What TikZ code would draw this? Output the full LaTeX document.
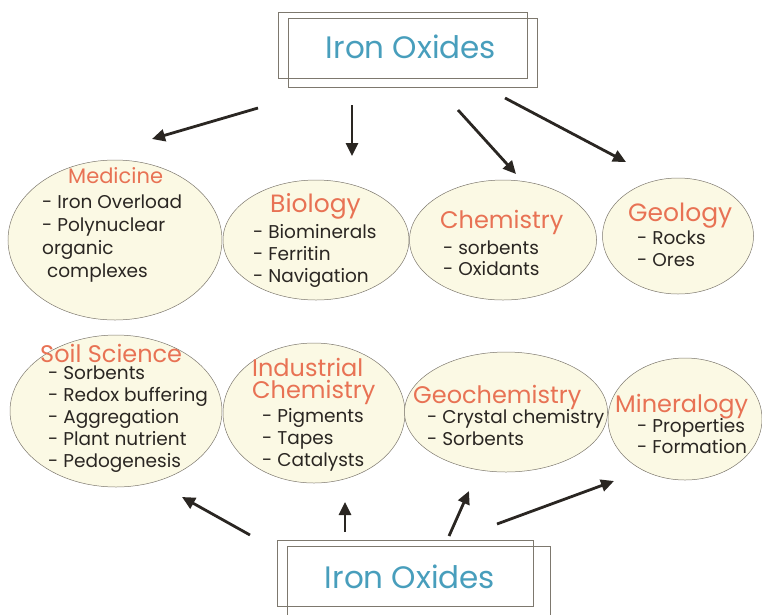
\documentclass[tikz,border=0pt]{standalone}
\usepackage{fontspec}
\setmainfont{Poppins}
\usetikzlibrary{shapes.geometric,arrows.meta}

\definecolor{creamfill}{RGB}{251,249,228}
\definecolor{rimgray}{RGB}{125,120,110}
\definecolor{headred}{RGB}{232,114,84}
\definecolor{oxideblue}{RGB}{72,158,188}
\definecolor{inkdark}{RGB}{42,38,34}

\begin{document}
\begin{tikzpicture}[
x=1pt, y=-1pt,
arrow/.style={-{Triangle[length=13pt,width=12pt]}, line width=2.8pt, draw=inkdark}
]

% =====================================================
% Styles
% =====================================================

\tikzstyle{field} =
[ellipse, draw=rimgray, line width=0.5pt,
fill=creamfill, inner sep=0pt]

\tikzstyle{frame} =
[rectangle, draw=rimgray, line width=0.5pt,
inner sep=0pt]

\tikzstyle{title} =
[font=\fontsize{31}{34}\selectfont, text=oxideblue]

\tikzstyle{head} =
[font=\fontsize{24}{22}\selectfont, text=headred,
inner sep=0pt, anchor=base west]

% base of a multi-line node = baseline of its last line
\tikzstyle{items} =
[font=\fontsize{18.5}{22}\selectfont, text=inkdark,
align=left, inner sep=0pt, anchor=base west]

\useasboundingbox (0,0) rectangle (762,614);

% =====================================================
% Iron Oxides boxes
% =====================================================

\node (topframe) [frame, minimum width=249pt, minimum height=66pt] at (402.5,45) {};
\node (topframe2) [frame, minimum width=249pt, minimum height=69pt] at (412.5,52.5) {};
\node (top) [title] at (411,47) {Iron Oxides};

\node (botframe) [frame, minimum width=256pt, minimum height=66pt] at (405,573) {};
\node (botframe2) [frame, minimum width=263pt, minimum height=100pt] at (418.5,596) {};
\node (bottom) [title] at (410,577) {Iron Oxides};

% =====================================================
% Fields
% =====================================================

\node (medicine) [field, minimum width=214pt, minimum height=160pt] at (115,240) {};
\node (biology) [field, minimum width=186pt, minimum height=120pt] at (316,240) {};
\node (chemistry) [field, minimum width=187pt, minimum height=120pt] at (503,240) {};
\node (geology) [field, minimum width=151pt, minimum height=116pt] at (678,236) {};

\node (soil) [field, minimum width=212pt, minimum height=152pt] at (116,411) {};
\node (industry) [field, minimum width=182pt, minimum height=140pt] at (314,413) {};
\node (geochem) [field, minimum width=203pt, minimum height=120pt] at (506,412) {};
\node (mineral) [field, minimum width=154pt, minimum height=122pt] at (685,419) {};

% =====================================================
% Texts
% =====================================================

\node (medicine-head) [head, font=\fontsize{21}{22}\selectfont] at (68,183) {Medicine};
\node (medicine-items) [items, font=\fontsize{18.5}{23}\selectfont] at (42,277)
{- Iron Overload\\- Polynuclear\\organic\\\ complexes};

\node (biology-head) [head, font=\fontsize{25}{22}\selectfont] at (270,212) {Biology};
\node (biology-items) [items] at (253,282)
{- Biominerals\\- Ferritin\\- Navigation};

\node (chemistry-head) [head] at (440,228) {Chemistry};
\node (chemistry-items) [items, font=\fontsize{18.5}{21}\selectfont] at (443,275)
{- sorbents\\- Oxidants};

\node (geology-head) [head, font=\fontsize{25}{22}\selectfont] at (628,221) {Geology};
\node (geology-items) [items] at (637,266)
{- Rocks\\- Ores};

\node (soil-head) [head] at (40,362) {Soil Science};
\node (soil-items) [items, font=\fontsize{18.5}{21.8}\selectfont] at (48,467)
{- Sorbents\\- Redox buffering\\- Aggregation\\- Plant nutrient\\- Pedogenesis};

\node (industry-head) [head, align=left] at (252,398)
{Industrial\\Chemistry};
\node (industry-items) [items] at (262,466)
{- Pigments\\- Tapes\\- Catalysts};

\node (geochem-head) [head] at (413,403) {Geochemistry};
\node (geochem-items) [items] at (427,445)
{- Crystal chemistry\\- Sorbents};

\node (mineral-head) [head] at (615,412) {Mineralogy};
\node (mineral-items) [items, font=\fontsize{18.5}{21}\selectfont] at (637,453)
{- Properties\\- Formation};

% =====================================================
% Arrows
% =====================================================

\coordinate (a1) at (258,108);
\coordinate (a1e) at (152,139);
\coordinate (a2) at (352,105);
\coordinate (a2e) at (352,156);
\coordinate (a3) at (458,110);
\coordinate (a3e) at (516,174);
\coordinate (a4) at (505,98);
\coordinate (a4e) at (626,162);

\coordinate (b1) at (250,535);
\coordinate (b1e) at (182,497);
\coordinate (b2) at (345,532);
\coordinate (b2e) at (345,502);
\coordinate (b3) at (449,536);
\coordinate (b3e) at (469,491);
\coordinate (b4) at (497,524);
\coordinate (b4e) at (614,481);

\draw [arrow] (a1) -- (a1e);
\draw [arrow] (a2) -- (a2e);
\draw [arrow] (a3) -- (a3e);
\draw [arrow] (a4) -- (a4e);

\draw [arrow] (b1) -- (b1e);
\draw [arrow] (b2) -- (b2e);
\draw [arrow] (b3) -- (b3e);
\draw [arrow] (b4) -- (b4e);

\end{tikzpicture}
\end{document}
